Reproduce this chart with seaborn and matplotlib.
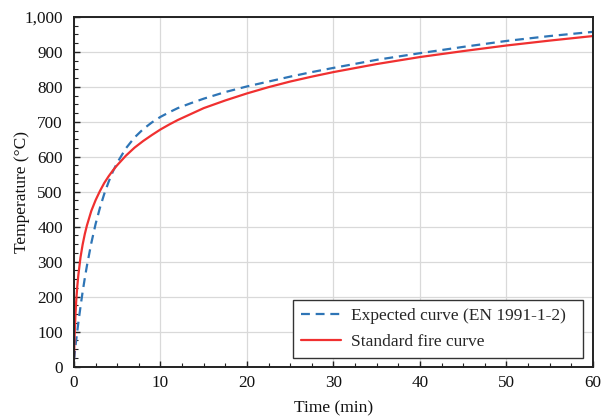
import matplotlib
matplotlib.use("Agg")
import matplotlib.pyplot as plt
import seaborn as sns
import pandas as pd
from matplotlib.ticker import MultipleLocator, StrMethodFormatter

# Data
time_min = [0, 0.05, 0.1, 0.175, 0.25, 0.375, 0.5, 0.75, 1, 1.25, 1.5, 2, 2.5, 3, 3.5,
            4, 4.5, 5, 6, 7, 8, 9, 10, 11, 12, 13.5, 15, 17.5, 20, 22.5, 25, 27.5,
            30, 35, 40, 45, 50, 55, 60]
expected_curve = [20, 27, 42, 60, 75, 100, 125, 171, 214, 253, 289, 353, 408, 454, 494,
                  528, 558, 583, 624, 655, 679, 698, 714, 727, 739, 753, 766, 785,
                  801, 815, 829, 842, 854, 877, 896, 914, 931, 945, 957]
standard_curve = [20, 70, 108, 151, 185, 228, 261, 312, 349, 379, 404, 445, 476, 502, 525,
                  544, 561, 576, 603, 626, 645, 662, 678, 692, 705, 722, 739, 761,
                  781, 799, 815, 829, 842, 865, 885, 902, 918, 932, 945]
series_names = ["Expected curve (EN 1991-1-2)", "Standard fire curve"]

df = pd.concat([
    pd.DataFrame({"Time": time_min, "Temp": expected_curve, "Curve": series_names[0]}),
    pd.DataFrame({"Time": time_min, "Temp": standard_curve, "Curve": series_names[1]}),
])

sns.set_theme(style="white")
plt.rcParams["font.family"] = ["Liberation Serif", "DejaVu Serif"]

fig = plt.figure(figsize=(6.14, 4.20), dpi=100)
ax = fig.add_axes([0.1205, 0.127, 0.8453, 0.833])

palette = {series_names[0]: "#2e75b6", series_names[1]: "#f03030"}
sns.lineplot(data=df, x="Time", y="Temp", hue="Curve", style="Curve",
             palette=palette, dashes={series_names[0]: (4, 2.6), series_names[1]: ""},
             linewidth=1.6, ax=ax, sort=False)

ax.set_xlim(0, 60)
ax.set_ylim(0, 1000)
ax.xaxis.set_major_locator(MultipleLocator(10))
ax.xaxis.set_minor_locator(MultipleLocator(2.5))
ax.yaxis.set_major_locator(MultipleLocator(100))
ax.yaxis.set_minor_locator(MultipleLocator(25))
ax.yaxis.set_major_formatter(StrMethodFormatter("{x:,.0f}"))

ax.grid(True, which="major", color="#d9d9d9", linewidth=0.9)
ax.set_axisbelow(True)
for s in ax.spines.values():
    s.set_color("#222222")
    s.set_linewidth(1.4)

ax.tick_params(which="both", direction="in", color="#222222", top=False, right=False,
               bottom=True, left=True)
ax.tick_params(which="major", length=4, width=1, labelsize=12.3, labelcolor="#111111")
ax.tick_params(axis="x", which="major", pad=6)
ax.tick_params(axis="y", which="major", pad=8)
ax.tick_params(which="minor", length=3, width=0.8)

ax.set_xlabel("Time (min)", fontsize=12.5, labelpad=7, color="#111111")
ax.set_ylabel("Temperature (°C)", fontsize=12.5, labelpad=-4, color="#111111")

leg = ax.legend(loc="lower left", mode="expand", fontsize=12.5, frameon=True,
                fancybox=False, edgecolor="#333333", framealpha=1, borderpad=0.45,
                handlelength=2.3, handletextpad=0.6, labelspacing=0.55,
                bbox_to_anchor=(0.422, 0.026, 0.559, 0.2), borderaxespad=0, title=None)
leg.get_frame().set_linewidth(1.0)

fig.savefig("out.png", dpi=100)
